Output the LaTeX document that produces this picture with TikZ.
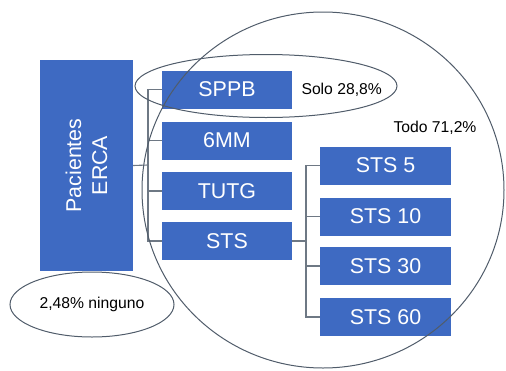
\documentclass[tikz,border=0pt]{standalone}
\usepackage{fontspec}
\setmainfont{Liberation Sans}
\usetikzlibrary{shapes.geometric}
\definecolor{boxblue}{RGB}{62,106,194}
\definecolor{linegrey}{RGB}{110,120,132}
\definecolor{ringgrey}{RGB}{80,92,106}
\tikzset{
  test/.style={fill=boxblue, text=white, inner sep=0pt, minimum width=130pt, minimum height=38pt, font=\fontsize{21.4}{26}\selectfont},
  link/.style={draw=linegrey, line width=1.1pt},
  ring/.style={ellipse, draw=ringgrey, line width=1pt, inner sep=0pt},
  note/.style={font=\fontsize{15.7}{18}\selectfont}
}
\begin{document}
\begin{tikzpicture}[x=1pt, y=-1pt]
\useasboundingbox (0,0) rectangle (506,370);
\node[test, rotate=90, minimum width=211pt, minimum height=93pt, align=center] (pac) at (86.5,165.5) {Pacientes\\ERCA};
\node[test] (sppb) at (227,89.5) {SPPB};
\node[test] (mm) at (227,140.5) {6MM};
\node[test] (tutg) at (227,191) {TUTG};
\node[test] (sts) at (227,241) {STS};
\node[test, minimum width=131pt] (sts5) at (385.5,165.5) {STS 5};
\node[test, minimum width=131pt] (sts10) at (385.5,216.5) {STS 10};
\node[test, minimum width=131pt] (sts30) at (385.5,266) {STS 30};
\node[test, minimum width=131pt] (sts60) at (385.5,317) {STS 60};
\coordinate (b1) at (148,165);
\coordinate (b2) at (306,241);
\draw[link] (pac.south) -- (b1);
\draw[link] (b1) |- (sppb.west);
\draw[link] (b1) |- (mm.west);
\draw[link] (b1) |- (tutg.west);
\draw[link] (b1) |- (sts.west);
\draw[link] (sts.east) -- (b2);
\draw[link] (b2) |- (sts5.west);
\draw[link] (b2) |- (sts10.west);
\draw[link] (b2) |- (sts30.west);
\draw[link] (b2) |- (sts60.west);
\node[ring, minimum width=362pt, minimum height=356pt] (todo) at (323,190) {};
\node[ring, minimum width=262pt, minimum height=63pt] (solo) at (266,86) {};
\node[ring, note, minimum width=164pt, minimum height=65pt] (ninguno) at (92,304.5) {2,48\% ninguno};
\node[note, anchor=west] (solotxt) at (298,90) {Solo 28,8\%};
\node[note] (todotxt) at (435,128) {Todo 71,2\%};
\end{tikzpicture}
\end{document}
